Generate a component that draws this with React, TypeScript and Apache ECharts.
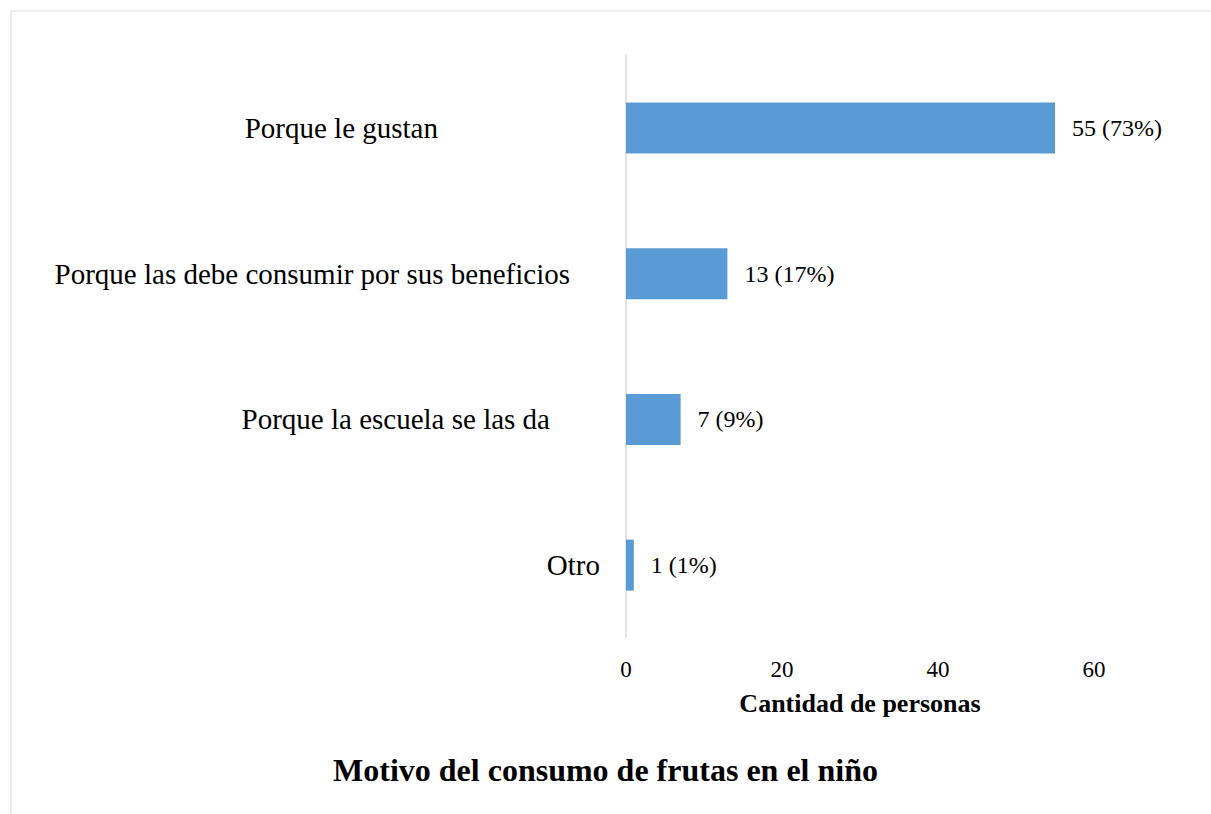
import React, { useEffect, useRef } from "react";
import * as echarts from "echarts";

const categories = [
  "Porque le gustan",
  "Porque las debe consumir por sus beneficios",
  "Porque la escuela se las da",
  "Otro",
];
const counts = [55, 13, 7, 1];
const percents = ["73%", "17%", "9%", "1%"];
const xTicks = [0, 20, 40, 60];
const chartTitle = "Motivo del consumo de frutas en el niño";
const xAxisName = "Cantidad de personas";

const FONT = "Liberation Serif";
const labelPads = [162, 30, 50, 0];

export default function App() {
  const ref = useRef<HTMLDivElement>(null);
  useEffect(() => {
    if (!ref.current) return;
    const chart = echarts.init(ref.current, null, { renderer: "svg" });
    const rich: Record<string, any> = {};
    labelPads.forEach((p, i) => {
      rich["c" + i] = {
        fontFamily: FONT,
        fontSize: 29,
        color: "#000",
        padding: [0, p, 0, 0],
      };
    });
    chart.setOption({
      animation: false,
      backgroundColor: "#fff",
      title: {
        text: chartTitle,
        left: "center",
        top: 749,
        textStyle: { fontFamily: FONT, fontSize: 32, fontWeight: "bold", color: "#000" },
      },
      graphic: [
        {
          type: "rect",
          shape: { x: 11, y: 11, width: 1400, height: 1000 },
          style: { fill: "none", stroke: "#d9d9d9", lineWidth: 1 },
          silent: true,
        },
      ],
      grid: { left: 626, right: 117, top: 55, bottom: 176 },
      xAxis: {
        type: "value",
        min: xTicks[0],
        max: xTicks[xTicks.length - 1],
        interval: 20,
        name: xAxisName,
        nameLocation: "middle",
        nameGap: 52,
        nameTextStyle: { fontFamily: FONT, fontSize: 26, fontWeight: "bold", color: "#000" },
        axisLine: { show: false },
        axisTick: { show: false },
        splitLine: { show: false },
        axisLabel: { fontFamily: FONT, fontSize: 23, color: "#000", margin: 20 },
      },
      yAxis: {
        type: "category",
        data: categories,
        inverse: true,
        axisLine: { show: true, lineStyle: { color: "#d9d9d9", width: 1.5 } },
        axisTick: { show: false },
        axisLabel: {
          margin: 26,
          fontFamily: FONT,
          fontSize: 29,
          color: "#000",
          formatter: (v: string, i: number) => `{c${i}|${v}}`,
          rich,
        },
      },
      series: [
        {
          type: "bar",
          data: counts,
          barWidth: 51,
          itemStyle: { color: "#5b9bd5" },
          label: {
            show: true,
            position: "right",
            distance: 17,
            fontFamily: FONT,
            fontSize: 24,
            color: "#000",
            formatter: (p: any) => `${p.value} (${percents[p.dataIndex]})`,
          },
        },
      ],
    });
    return () => chart.dispose();
  }, []);
  return (
    <div
      ref={ref}
      style={{ position: "absolute", left: 0, top: 0, width: 1211, height: 814 }}
    />
  );
}
